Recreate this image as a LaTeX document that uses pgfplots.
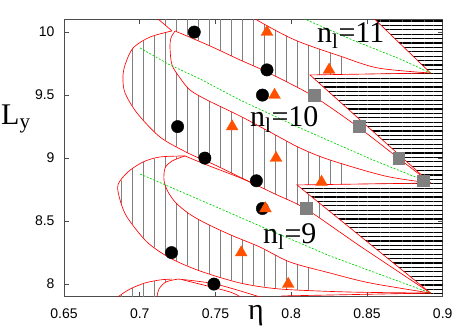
\documentclass[border=0pt]{standalone}
\usepackage{fontspec}
\setmainfont{Liberation Serif}
\newfontfamily\ticksans{Liberation Sans}
\usepackage{pgfplots}
\pgfplotsset{compat=1.18}
\usetikzlibrary{patterns.meta}
\definecolor{tri}{RGB}{255,80,0}
\definecolor{sq}{RGB}{128,128,128}
\definecolor{grn}{RGB}{0,215,0}
\begin{document}
\begin{tikzpicture}
\useasboundingbox (-64pt,-32.3pt) rectangle (405pt,296.7pt);
\begin{axis}[
    at={(0,0)}, anchor=south west,
    scale only axis, width=378.7pt, height=277.2pt,
    xmin=0.65, xmax=0.9, ymin=7.9, ymax=10.1,
    xtick={0.65,0.7,0.75,0.8,0.85,0.9},
    xticklabels={0.65,0.7,0.75,0.8,0.85,0.9},
    ytick={8,8.5,9,9.5,10},
    yticklabels={8,8.5,9,9.5,10},
    tick align=inside, major tick length=5pt,
    tick style={black!70, line width=0.6pt},
    axis line style={black!70, line width=0.9pt},
    tick label style={font=\ticksans\fontsize{14}{14}\selectfont},
    xticklabel style={yshift=-8pt},
    yticklabel style={xshift=-6pt},
    vhatch/.style={draw=none, pattern={Lines[angle=90,distance=11pt,line width=0.9pt]}, pattern color=black!50},
    tongue/.style={red, line width=0.65pt},
    centre/.style={grn, line width=0.7pt, dash pattern=on 2pt off 1.6pt},
]

% vertically hatched regions
\addplot[vhatch] coordinates {(0.7068,10.175) (0.7121,10.104) (0.7213,10.009) (0.7253,10.009) (0.7464,9.890) (0.7662,9.779) (0.7840,9.683) (0.8124,9.509) (0.8124,9.660) (0.8355,9.662) (0.8355,9.797) (0.8322,9.810) (0.8025,9.937) (0.7774,10.096) (0.7695,10.175)} -- cycle;
\addplot[vhatch] coordinates {(0.7213,10.009) (0.7068,9.961) (0.6956,9.874) (0.6903,9.739) (0.6889,9.636) (0.6903,9.517) (0.6982,9.358) (0.7134,9.167) (0.7319,9.040) (0.7497,8.945) (0.7682,8.834) (0.7893,8.715) (0.8098,8.596) (0.8223,8.501) (0.8223,8.610) (0.8038,8.787) (0.8355,8.790) (0.8355,8.953) (0.8256,8.985) (0.8058,9.080) (0.7860,9.207) (0.7662,9.334) (0.7444,9.461) (0.7332,9.540) (0.7266,9.636) (0.7213,9.739) (0.7200,9.874) (0.7206,9.953) (0.7233,10.009)} -- cycle;
\addplot[vhatch] coordinates {(0.7299,9.017) (0.7134,9.009) (0.7022,8.969) (0.6922,8.890) (0.6856,8.787) (0.6870,8.668) (0.6916,8.532) (0.7048,8.334) (0.7200,8.207) (0.7398,8.104) (0.7662,8.009) (0.7926,7.961) (0.8144,7.945) (0.8144,8.125) (0.7992,8.175) (0.7794,8.294) (0.7616,8.382) (0.7431,8.485) (0.7319,8.564) (0.7233,8.652) (0.7180,8.747) (0.7160,8.826) (0.7167,8.921) (0.7213,8.977)} -- cycle;
\addplot[vhatch] coordinates {(0.7213,8.040) (0.7134,8.033) (0.7035,8.009) (0.6936,7.961) (0.6856,7.898) (0.6804,7.834) (0.7114,7.834) (0.7114,7.898) (0.7127,7.961) (0.7173,8.017) (0.7253,8.040)} -- cycle;

% horizontally hatched region
\addplot[draw=none, pattern={Lines[angle=0,distance=4.4pt,line width=1.3pt]}, pattern color=black]
  coordinates {(0.8454,10.215) (0.892,9.675) (0.8124,9.660) (0.892,8.802) (0.8038,8.787) (0.892,7.929) (0.7939,7.906) (0.7992,7.834) (0.9114,7.834) (0.9114,10.215)} -- cycle;

% tongue boundaries
\addplot[tongue] coordinates {(0.7068,10.175) (0.7121,10.104) (0.7213,10.009)};
\addplot[tongue, smooth] coordinates {(0.7213,10.009) (0.7068,9.961) (0.6956,9.874) (0.6903,9.739) (0.6889,9.636) (0.6903,9.517) (0.6982,9.358) (0.7134,9.167) (0.7319,9.040) (0.7497,8.945) (0.7728,8.810)};
\addplot[tongue, smooth] coordinates {(0.7233,10.009) (0.7464,9.890) (0.7662,9.779) (0.7840,9.683) (0.8144,9.493) (0.8441,9.247) (0.8698,9.009) (0.892,8.802)};
\addplot[tongue, smooth] coordinates {(0.7233,10.009) (0.7206,9.953) (0.7200,9.874) (0.7213,9.739) (0.7266,9.636) (0.7332,9.540) (0.7444,9.461) (0.7662,9.334) (0.7860,9.207) (0.8058,9.080) (0.8256,8.985) (0.8619,8.858) (0.892,8.802)};
\addplot[tongue, smooth] coordinates {(0.7695,10.175) (0.7774,10.096) (0.8025,9.937) (0.8322,9.810) (0.8573,9.715) (0.892,9.675)};
\addplot[tongue, smooth] coordinates {(0.7299,9.017) (0.7134,9.009) (0.7022,8.969) (0.6922,8.890) (0.6856,8.787) (0.6870,8.668) (0.6916,8.532) (0.7048,8.334) (0.7200,8.207) (0.7398,8.104) (0.7662,8.009) (0.7926,7.961) (0.8388,7.937) (0.892,7.929)};
\addplot[tongue, smooth] coordinates {(0.7299,9.017) (0.7444,8.945) (0.7682,8.834) (0.7893,8.715) (0.8098,8.596) (0.8454,8.302) (0.892,7.929)};
\addplot[tongue, smooth] coordinates {(0.7299,9.017) (0.7213,8.977) (0.7167,8.921) (0.7160,8.826) (0.7180,8.747) (0.7233,8.652) (0.7319,8.564) (0.7431,8.485) (0.7616,8.382) (0.7794,8.294) (0.7992,8.175) (0.8256,8.088) (0.8520,8.009) (0.892,7.929)};
\addplot[tongue, smooth] coordinates {(0.7213,8.040) (0.7134,8.033) (0.7035,8.009) (0.6936,7.961) (0.6856,7.898) (0.6804,7.834)};
\addplot[tongue, smooth] coordinates {(0.7253,8.040) (0.7173,8.017) (0.7127,7.961) (0.7114,7.898) (0.7114,7.834)};
\addplot[tongue, smooth] coordinates {(0.7253,8.040) (0.7497,8.001) (0.7794,7.898) (0.7893,7.858)};
\addplot[tongue, smooth] coordinates {(0.7286,8.033) (0.7596,7.937) (0.7695,7.874)};
\addplot[tongue] coordinates {(0.8454,10.215) (0.892,9.675) (0.8124,9.660) (0.892,8.802) (0.8038,8.787) (0.892,7.929) (0.7939,7.906) (0.7992,7.834)};

% centre lines
\addplot[centre] coordinates {(0.8058,10.120) (0.8421,9.929) (0.8718,9.787) (0.892,9.675)};
\addplot[centre] coordinates {(0.7002,9.874) (0.7187,9.747) (0.7398,9.628) (0.7662,9.461) (0.8058,9.239) (0.8540,8.985) (0.892,8.802)};
\addplot[centre] coordinates {(0.7002,8.874) (0.7398,8.668) (0.7794,8.461) (0.8256,8.223) (0.892,7.929)};

% points
\addplot[only marks, mark=*, mark size=6.2pt, black] coordinates {
  (0.736,10.0) (0.784,9.70) (0.781,9.50) (0.725,9.25) (0.743,9.00)
  (0.777,8.82) (0.781,8.60) (0.721,8.25) (0.749,8.00)};
\addplot[only marks, mark=triangle*, mark size=6.8pt, tri, mark options={draw=tri, fill=tri}] coordinates {
  (0.784,10.0) (0.825,9.70) (0.789,9.50) (0.761,9.25) (0.790,9.00)
  (0.820,8.81) (0.783,8.60) (0.767,8.25) (0.798,8.00)};
\addplot[only marks, mark=square*, mark size=5.9pt, sq, mark options={draw=sq, fill=sq}] coordinates {
  (0.815,9.50) (0.845,9.25) (0.871,9.00) (0.887,8.82) (0.810,8.60)};

\node[anchor=base west, inner sep=0pt, font=\fontsize{30}{30}\selectfont] at (axis cs:0.817,9.921) {n\textsubscript{l}=11};
\node[anchor=base west, inner sep=0pt, font=\fontsize{30}{30}\selectfont] at (axis cs:0.7728,9.247) {n\textsubscript{l}=10};
\node[anchor=base west, inner sep=0pt, font=\fontsize{30}{30}\selectfont] at (axis cs:0.7814,8.326) {n\textsubscript{l}=9};
\end{axis}
\node[anchor=base west, inner sep=0pt, font=\fontsize{30}{30}\selectfont] at (-63pt,171.7pt) {L\textsubscript{y}};
\node[anchor=base, inner sep=0pt, font=\fontsize{30}{30}\selectfont] at (192pt,-23.3pt) {η};
\end{tikzpicture}
\end{document}
